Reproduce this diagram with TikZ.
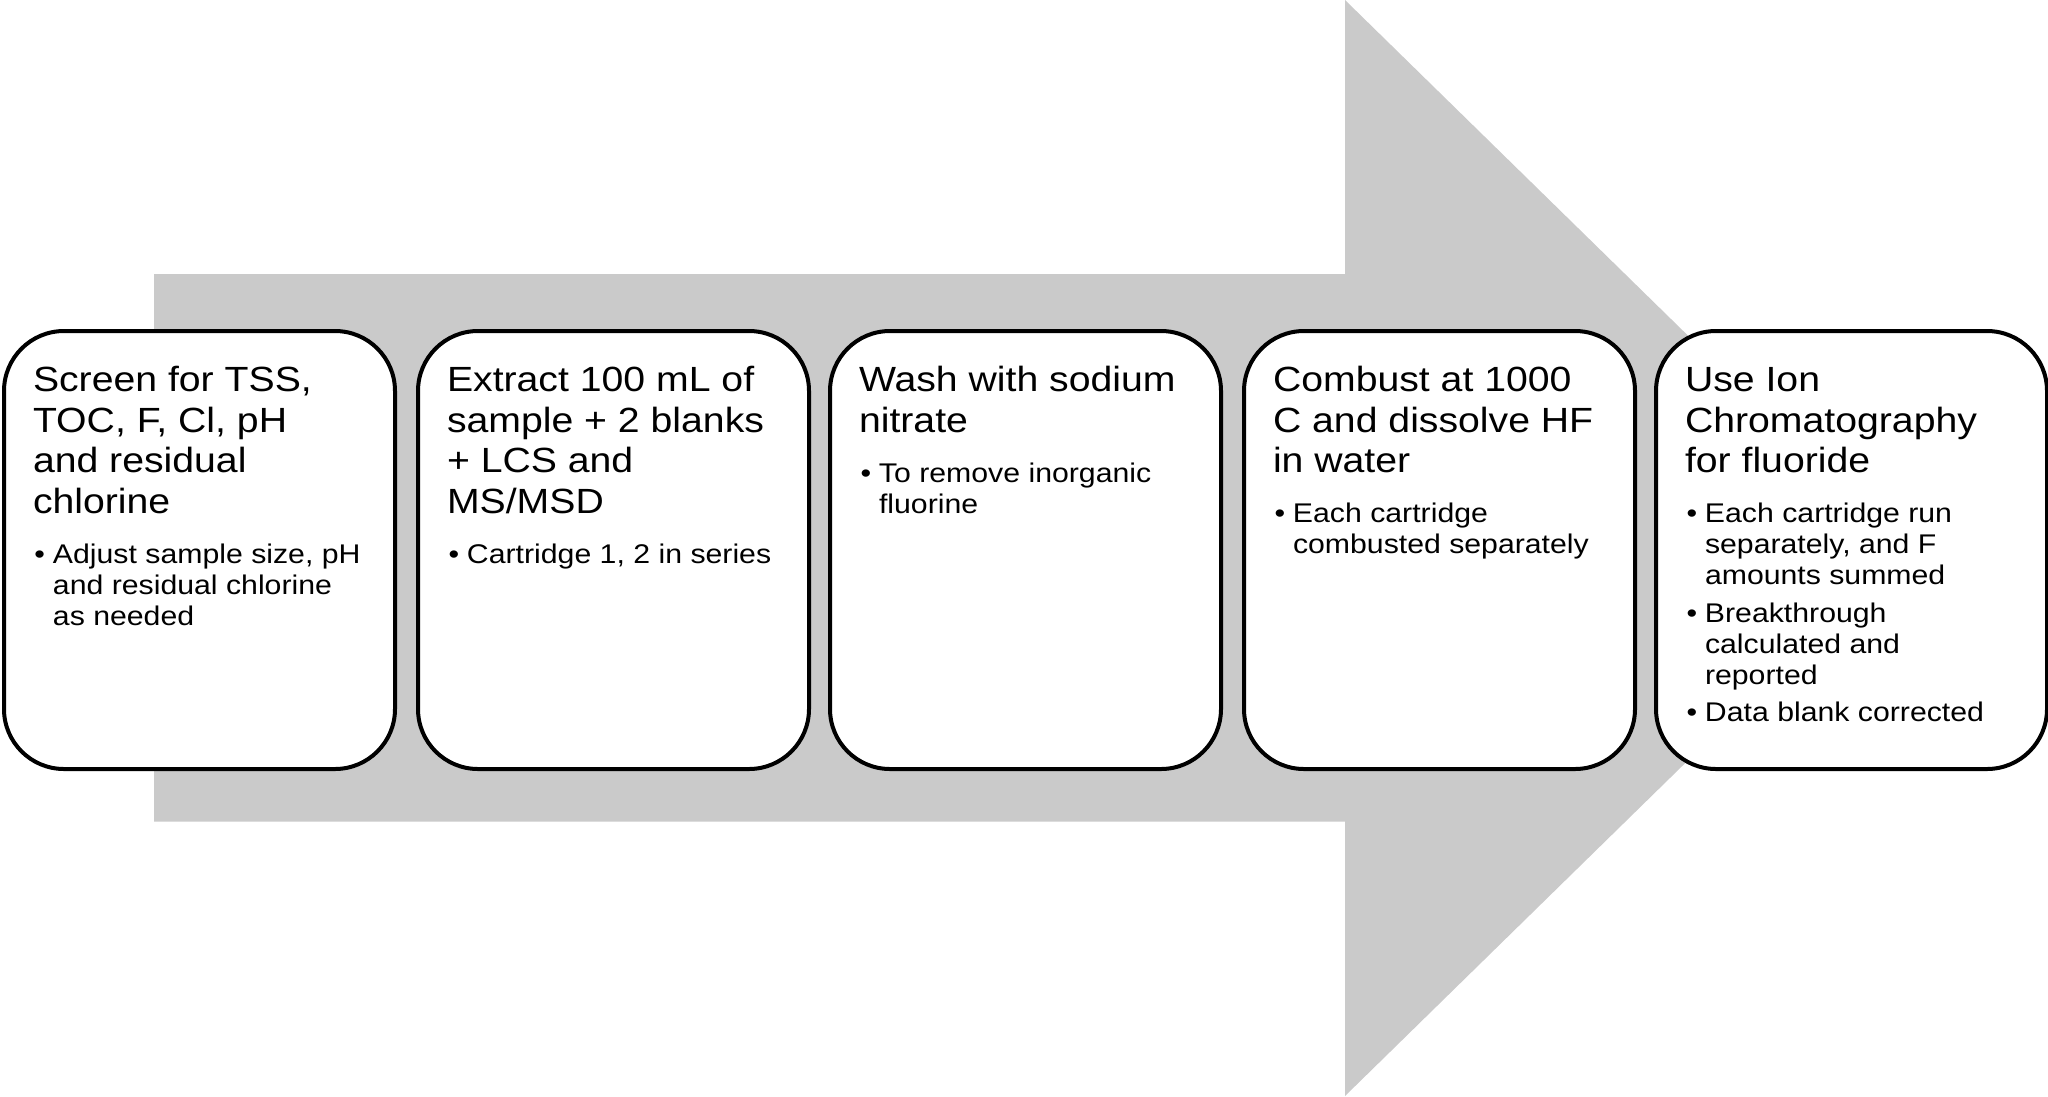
\documentclass[tikz,border=0pt]{standalone}
\usepackage{fontspec}
\setmainfont{Liberation Sans}[FakeStretch=1.12]
\definecolor{arrowgray}{RGB}{202,202,202}
\tikzset{
  stepbox/.style={draw=black, line width=4pt, fill=white, rounded corners=60pt,
    rectangle, minimum width=391pt, minimum height=438pt, anchor=north west,
    inner sep=0pt},
  steptext/.style={anchor=base west, inner sep=0pt, outer sep=0pt},
  bigarrow/.style={fill=arrowgray, draw=none}
}
\newcommand{\stepcontent}[2]{\vtop{\hsize=420pt\parindent=0pt\parskip=0pt
  \fontsize{35}{40.5}\selectfont #1\par
  \vspace{19pt}\fontsize{27}{31}\selectfont #2}}
\newcommand{\bitem}[1]{\hangindent=20pt\hangafter=1\noindent\makebox[20pt][l]{\hspace{1.5pt}•}#1\par}
\newcommand{\bsep}{\vspace{6.3pt}}
\begin{document}
\begin{tikzpicture}[x=1pt,y=-1pt]
\useasboundingbox (0,0) rectangle (2048,1096);
% big gray arrow
\fill[bigarrow] (154,274) -- (1345,274) -- (1345,0) -- (1905,548) -- (1345,1096)
  -- (1345,821.5) -- (154,821.5) -- cycle;
% boxes
\node[stepbox] (b1) at (2,329) {};
\node[stepbox] (b2) at (416,329) {};
\node[stepbox] (b3) at (828,329) {};
\node[stepbox] (b4) at (1242,329) {};
\node[stepbox] (b5) at (1654,329) {};
% texts
\node[steptext] (t1) at (33,391.7) {\stepcontent{Screen for TSS,\newline TOC, F, Cl, pH\newline and residual\newline chlorine}{\bitem{Adjust sample size, pH\newline and residual chlorine\newline as needed}}};
\node[steptext] (t2) at (447,391.7) {\stepcontent{Extract 100 mL of\newline sample + 2 blanks\newline + LCS and\newline MS/MSD}{\bitem{Cartridge 1, 2 in series}}};
\node[steptext] (t3) at (859,391.7) {\stepcontent{Wash with sodium\newline nitrate}{\bitem{To remove inorganic\newline fluorine}}};
\node[steptext] (t4) at (1273,391.7) {\stepcontent{Combust at 1000\newline C and dissolve HF\newline in water}{\bitem{Each cartridge\newline combusted separately}}};
\node[steptext] (t5) at (1685,391.7) {\stepcontent{Use Ion\newline Chromatography\newline for fluoride}{\bitem{Each cartridge run\newline separately, and F\newline amounts summed}\bsep\bitem{Breakthrough\newline calculated and\newline reported}\bsep\bitem{Data blank corrected}}};
\end{tikzpicture}
\end{document}
